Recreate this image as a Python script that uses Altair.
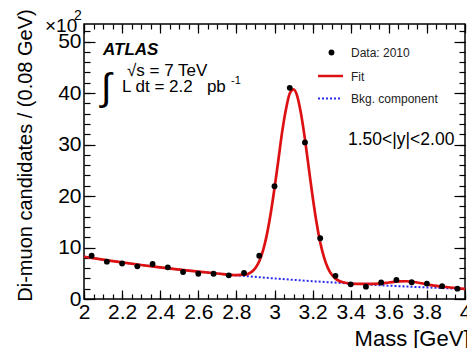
import altair as alt
import pandas as pd

FONT = "Liberation Sans"
RED = "#dd1111"
BLUE = "#2b2bf0"

# Di-muon candidates per 0.08 GeV bin (units of 10^2)
mass = [2.04, 2.12, 2.20, 2.28, 2.36, 2.44, 2.52, 2.60, 2.68, 2.76, 2.84, 2.92,
        3.00, 3.08, 3.16, 3.24, 3.32, 3.40, 3.48, 3.56, 3.64, 3.72, 3.80, 3.88, 3.96]
counts = [8.4, 7.25, 6.9, 6.35, 6.8, 6.15, 5.25, 4.9, 4.9, 4.6, 5.05, 8.4,
          21.9, 41.0, 30.4, 11.8, 4.5, 2.85, 2.4, 3.2, 3.7, 3.25, 3.0, 2.5, 2.0]

# Fitted signal + background curve
fit_mass = [2.00, 2.10, 2.20, 2.30, 2.40, 2.50, 2.60, 2.70, 2.80, 2.84, 2.86, 2.88,
            2.90, 2.92, 2.94, 2.96, 2.98, 3.00, 3.02, 3.04, 3.06, 3.08, 3.10, 3.12,
            3.14, 3.16, 3.18, 3.20, 3.22, 3.24, 3.26, 3.28, 3.30, 3.32, 3.34, 3.36,
            3.40, 3.45, 3.50, 3.55, 3.60, 3.65, 3.69, 3.75, 3.80, 3.85, 3.90, 3.95, 4.00]
fit_value = [8.2, 7.65, 7.10, 6.6, 6.15, 5.72, 5.32, 4.95, 4.64, 4.72, 4.85, 5.26,
             6.02, 7.33, 9.43, 12.5, 16.6, 21.5, 26.9, 32.4, 36.8, 39.9, 40.7, 39.3,
             35.8, 31.0, 25.4, 19.9, 15.0, 11.0, 8.1, 6.05, 4.74, 3.96, 3.51, 3.25,
             3.0, 2.92, 2.92, 3.0, 3.2, 3.41, 3.45, 3.2, 2.85, 2.55, 2.33, 2.13, 1.95]

# Background component of the fit
bkg_mass = [2.0, 2.2, 2.4, 2.6, 2.8, 3.0, 3.2, 3.4, 3.6, 3.8, 4.0]
bkg_value = [8.2, 7.1, 6.15, 5.32, 4.61, 3.99, 3.46, 2.99, 2.59, 2.24, 1.94]

# Axis ticks
x_major = [2.0, 2.2, 2.4, 2.6, 2.8, 3.0, 3.2, 3.4, 3.6, 3.8, 4.0]
x_minor = [round(2.0 + 0.05 * i, 2) for i in range(41)]
y_major = [0, 10, 20, 30, 40, 50]
y_minor = list(range(0, 54, 2))

W, H = 381, 275
xscale = alt.Scale(domain=[2, 4], nice=False, zero=False)
yscale = alt.Scale(domain=[0, 53.4], nice=False)

points_df = pd.DataFrame({"mass": mass, "counts": counts})
fit_df = pd.DataFrame({"mass": fit_mass, "value": fit_value})
bkg_df = pd.DataFrame({"mass": bkg_mass, "value": bkg_value})


def tick_axis(orient, values, size, labels=False, **kw):
    return alt.Axis(orient=orient, values=values, tickSize=size, offset=-size,
                    labels=labels, domain=False, grid=False, **kw)


bkg = alt.Chart(bkg_df).mark_line(
    color=BLUE, strokeWidth=2, strokeDash=[2, 2], interpolate="monotone"
).encode(
    x=alt.X("mass:Q", scale=xscale, axis=tick_axis("top", x_major, 9, title=None)),
    y=alt.Y("value:Q", scale=yscale, axis=tick_axis("right", y_major, 11, title=None)),
)

fit = alt.Chart(fit_df).mark_line(
    color=RED, strokeWidth=2.7, interpolate="monotone"
).encode(
    x=alt.X("mass:Q", scale=xscale, axis=tick_axis("bottom", x_minor, 5, title=None)),
    y=alt.Y("value:Q", scale=yscale, axis=tick_axis("left", y_minor, 6, title=None)),
)

pts = alt.Chart(points_df).mark_circle(color="black", size=34, opacity=1).encode(
    x=alt.X("mass:Q", scale=xscale,
            axis=tick_axis("bottom", x_major, 9, labels=True, format="~g",
                           labelFontSize=21, labelPadding=2, labelFlush=False,
                           labelOverlap=False, labelBound=False,
                           title="Mass [GeV]", titleFontSize=22,
                           titleX=W + 4, titleY=55, titleAlign="right",
                           titleBaseline="alphabetic", titleAngle=0)),
    y=alt.Y("counts:Q", scale=yscale,
            axis=tick_axis("left", y_major, 11, labels=True, format="d",
                           labelFontSize=21, labelPadding=3,
                           labelFlush=False, labelOverlap=False,
                           title="Di-muon candidates / (0.08 GeV)", titleFontSize=20,
                           titleX=-64, titleY=131, titleAngle=270,
                           titleAlign="center", titleBaseline="alphabetic")),
)

ghost = alt.Chart(points_df).mark_point(opacity=0).encode(
    x=alt.X("mass:Q", scale=xscale, axis=tick_axis("top", x_minor, 5, title=None)),
    y=alt.Y("counts:Q", scale=yscale, axis=tick_axis("right", y_minor, 6, title=None)),
)

one = alt.Data(values=[{}])


def label(text, x, y, size, align="left", baseline="alphabetic", **kw):
    return alt.Chart(one).mark_text(
        text=text, font=FONT, fontSize=size, align=align, baseline=baseline,
        color=kw.pop("color", "black"), **kw
    ).encode(x=alt.value(x), y=alt.value(y))


NB = "\u00a0"
texts = [
    label("×10", -39, 8, 19),
    label("2", -10, -4, 14),
    label("ATLAS", 19, 31, 17, fontWeight="bold", fontStyle="italic"),
    label("∫", 17, 76, 38),
    label("√s = 7 TeV", 43, 52, 17),
    label("L dt = 2.2" + NB * 3 + "pb", 38, 68, 17),
    label("-1", 147, 60, 11),
    label("Data: 2010", 267, 29, 12, baseline="middle", color="#222222"),
    label("Fit", 267, 53, 12, baseline="middle", color="#222222"),
    label("Bkg. component", 267, 74.5, 12, baseline="middle", color="#222222"),
    label("1.50<|y|<2.00", 264, 116, 17.5, baseline="middle"),
]

legend_marks = [
    alt.Chart(one).mark_circle(color="black", size=34, opacity=1).encode(
        x=alt.value(247.5), y=alt.value(28.5)),
    alt.Chart(one).mark_rule(color=RED, strokeWidth=2.5).encode(
        x=alt.value(234), x2=alt.value(259), y=alt.value(52)),
    alt.Chart(one).mark_rule(color=BLUE, strokeWidth=2, strokeDash=[2, 2]).encode(
        x=alt.value(234), x2=alt.value(258), y=alt.value(74.5)),
]

chart = alt.layer(bkg, fit, pts, ghost, *legend_marks, *texts).resolve_axis(
    x="independent", y="independent"
).properties(
    width=W, height=H,
    padding={"left": 84, "top": 24, "right": 2, "bottom": 49},
    autosize=alt.AutoSizeParams(type="none"),
    background="white",
).configure_view(
    stroke="black", strokeWidth=1.5
).configure_axis(
    tickColor="black", tickWidth=1.2, labelFont=FONT, titleFont=FONT,
    labelColor="black", titleColor="black", titleFontWeight="normal",
)

chart.save("out.html", embed_options={"renderer": "svg", "actions": False})
